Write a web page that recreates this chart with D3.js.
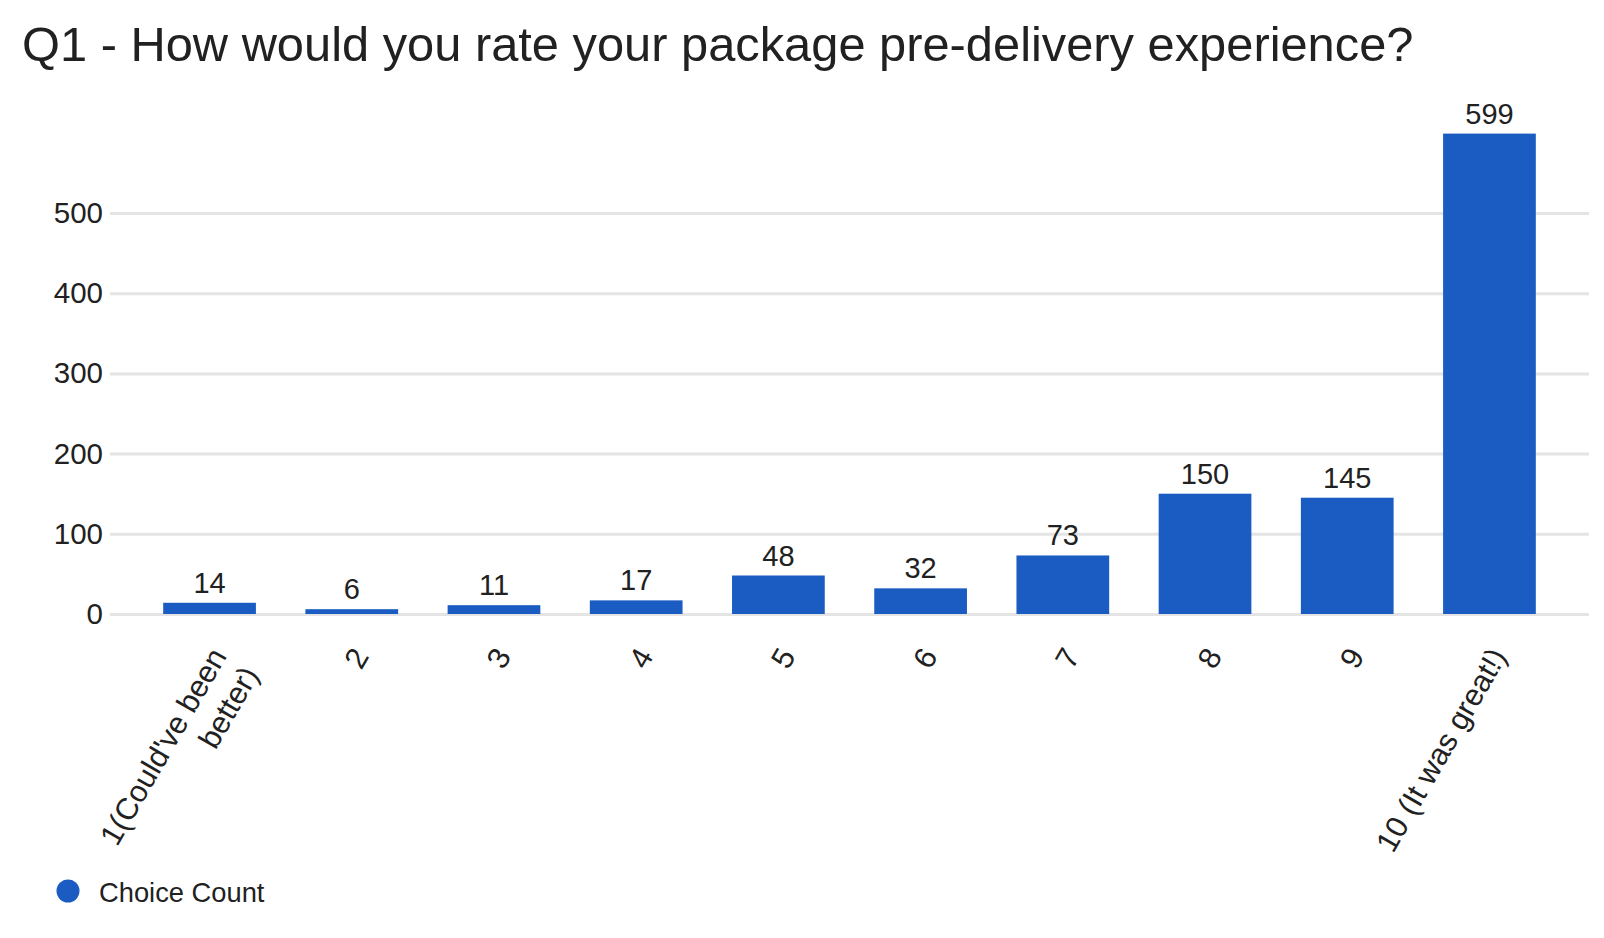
<!DOCTYPE html>
<html>
<head>
<meta charset="utf-8">
<script src="https://cdn.jsdelivr.net/npm/d3@7"></script>
<style>
  body { margin: 0; background: #fff; }
  text { font-family: "Liberation Sans", Arial, sans-serif; fill: #212121; }
</style>
</head>
<body>
<div id="container"></div>
<script>
const title = "Q1 - How would you rate your package pre-delivery experience?"
const categories = ["1(Could've been better)", "2", "3", "4", "5", "6", "7", "8", "9", "10 (It was great!)"]
const counts = [14, 6, 11, 17, 48, 32, 73, 150, 145, 599]
const yTicks = [0, 100, 200, 300, 400, 500]
const seriesName = "Choice Count"

const width = 1604
const height = 938
const barColor = "#1a5cc1"

const left = 110, right = 1589
const y0 = 614, y500 = 213

const svg = d3.create("svg")
    .attr("width", width)
    .attr("height", height)

// attach early so text can be measured for wrapping
document.querySelector("#container").appendChild(svg.node())

svg.append("text")
    .attr("x", 22)
    .attr("y", 61)
    .attr("font-size", "48.8px")
    .text(title)

const x = d3.scaleBand()
    .domain(categories)
    .range([left, right])
    .paddingInner(0.348)
    .paddingOuter(0.374)

const y = d3.scaleLinear()
    .domain([0, 500])
    .range([y0, y500])

// gridlines + y labels
const yAxis = svg.append("g")
    .attr("transform", `translate(${left},0)`)
    .call(d3.axisLeft(y).tickValues(yTicks).tickSize(-(right - left)).tickPadding(7))

yAxis.select(".domain").remove()
yAxis.selectAll(".tick line")
    .attr("stroke", "#e4e4e4")
    .attr("stroke-width", 3)
yAxis.selectAll(".tick text")
    .attr("font-size", "29.5px")
    .attr("font-family", "Liberation Sans, Arial, sans-serif")
    .attr("fill", "#212121")

// bars
svg.selectAll(".bar")
    .data(counts)
    .enter()
    .append("rect")
    .attr("class", "bar")
    .attr("x", (d, i) => x(categories[i]))
    .attr("y", d => y(d))
    .attr("width", x.bandwidth())
    .attr("height", d => y(0) - y(d))
    .style("fill", barColor)

svg.selectAll(".val")
    .data(counts)
    .enter()
    .append("text")
    .attr("class", "val")
    .attr("x", (d, i) => x(categories[i]) + x.bandwidth() / 2)
    .attr("y", d => y(d) - 10)
    .attr("text-anchor", "middle")
    .attr("font-size", "29px")
    .text(d => d)

// x labels, slanted and wrapped
const xLabels = svg.selectAll(".xlab")
    .data(categories)
    .enter()
    .append("text")
    .attr("class", "xlab")
    .attr("font-size", "30.5px")
    .attr("text-anchor", "end")
    .attr("transform", d => `translate(${x(d) + x.bandwidth() / 2 + 18},${656}) rotate(-60)`)

xLabels.each(function(d) {
    const t = d3.select(this)
    const words = d.split(" ")
    let line = []
    let tspan = t.append("tspan").attr("x", 0).attr("dy", 0)
    words.forEach(w => {
        line.push(w)
        tspan.text(line.join(" "))
        if (tspan.node().getComputedTextLength() > 250 && line.length > 1) {
            line.pop()
            tspan.text(line.join(" "))
            line = [w]
            tspan = t.append("tspan").attr("x", 0).attr("dy", 37).text(w)
        }
    })
})

// legend
const legend = svg.append("g").attr("transform", "translate(68,891)")
legend.append("circle").attr("r", 11.5).style("fill", barColor)
legend.append("text")
    .attr("x", 31)
    .attr("y", 11)
    .attr("font-size", "27.3px")
    .text(seriesName)
</script>
</body>
</html>
